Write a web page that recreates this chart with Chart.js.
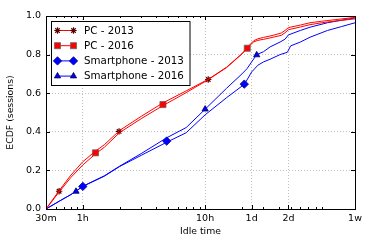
<!DOCTYPE html>
<html>
<head>
<meta charset="utf-8">
<script src="https://cdn.jsdelivr.net/npm/chart.js@4.4.0/dist/chart.umd.min.js"></script>
<style>
  html, body { margin: 0; padding: 0; background: #ffffff; }
</style>
</head>
<body>
<canvas id="ecdfChart" width="374" height="249"></canvas>
<script>
// x values are idle time in hours, y values are ECDF of sessions
var xTickHours = [0.5, 1, 10, 24, 48, 168];
var xTickLabels = ['30m', '1h', '10h', '1d', '2d', '1w'];
var xMinorHours = [0.6, 0.7, 0.8, 0.9, 2, 3, 4, 5, 6, 7, 8, 9, 20, 30, 40, 50, 60, 70, 80, 90];
var yTickVals = [0, 0.2, 0.4, 0.6, 0.8, 1.0];

var pcHours   = [0.5, 0.64, 0.8, 1, 1.27, 1.5, 2, 3, 4.5, 7, 10.6, 15, 20, 22, 23.5, 25, 27, 30, 36, 42, 45, 48, 60, 72, 90, 120, 168];
var pc2013Ecdf = [0, 0.095, 0.176, 0.245, 0.300, 0.333, 0.407, 0.480, 0.549, 0.612, 0.672, 0.735, 0.805, 0.834, 0.855, 0.872, 0.882, 0.889, 0.900, 0.912, 0.925, 0.940, 0.953, 0.965, 0.973, 0.982, 0.993];
var pc2016Ecdf = [0, 0.088, 0.164, 0.228, 0.286, 0.320, 0.396, 0.468, 0.535, 0.603, 0.670, 0.733, 0.803, 0.832, 0.850, 0.866, 0.874, 0.879, 0.890, 0.900, 0.913, 0.929, 0.943, 0.955, 0.965, 0.975, 0.985];

var sp2016Hours = [0.5, 0.64, 0.8, 0.88, 1, 1.5, 2, 3, 4.85, 7, 10, 15, 20, 22, 24, 26.4, 30, 34, 41, 45, 48, 60, 72, 100, 130, 168];
var sp2016Ecdf  = [0, 0.040, 0.075, 0.092, 0.118, 0.172, 0.222, 0.287, 0.369, 0.422, 0.517, 0.626, 0.700, 0.727, 0.762, 0.800, 0.815, 0.840, 0.865, 0.880, 0.902, 0.925, 0.942, 0.965, 0.978, 0.990];

var sp2013Hours = [0.5, 0.64, 0.8, 1, 1.5, 2, 3, 4.85, 7, 10, 15, 21, 24, 27, 30, 34, 41, 47, 50, 60, 72, 100, 130, 168];
var sp2013Ecdf  = [0, 0.040, 0.075, 0.117, 0.170, 0.220, 0.278, 0.346, 0.395, 0.488, 0.577, 0.647, 0.710, 0.745, 0.762, 0.776, 0.800, 0.812, 0.845, 0.865, 0.890, 0.925, 0.945, 0.965];

// sparse markers, as in the original plot
var pc2013MarkHours = [0.64, 1.98, 10.6];
var pc2013MarkEcdf  = [0.092, 0.402, 0.671];
var pc2016MarkHours = [1.27, 4.52, 22.1];
var pc2016MarkEcdf  = [0.291, 0.541, 0.833];
var sp2013MarkHours = [1.0, 4.85, 20.9];
var sp2013MarkEcdf  = [0.117, 0.352, 0.647];
var sp2016MarkHours = [0.88, 10.0, 26.4];
var sp2016MarkEcdf  = [0.091, 0.517, 0.798];

var seriesNames = ['PC - 2013', 'PC - 2016', 'Smartphone - 2013', 'Smartphone - 2016'];

function toPoints(xs, ys) {
    return xs.map(function(x, i) { return { x: x, y: ys[i] }; });
}

var markerStyles = [
    { pointStyle: 'star', radius: 3.2, fill: '#8b0000', edge: '#5a0000', width: 1.2 },
    { pointStyle: 'rect', radius: 4.3, fill: '#ff0000', edge: '#666666', width: 0.8 },
    { pointStyle: 'rectRot', radius: 4.2, fill: '#0000ff', edge: '#000088', width: 0.8 },
    { pointStyle: 'triangle', radius: 3.6, fill: '#0000ff', edge: '#000044', width: 0.8 }
];
var lineColors = ['#ff0000', '#ff0000', '#0000ff', '#0000ff'];

function lineSet(xs, ys, color) {
    return {
        data: toPoints(xs, ys),
        showLine: true,
        borderColor: color,
        borderWidth: 1,
        pointRadius: 0,
        pointHoverRadius: 0,
        tension: 0,
        fill: false
    };
}

function markSet(xs, ys, m) {
    return {
        data: toPoints(xs, ys),
        showLine: false,
        pointStyle: m.pointStyle,
        pointRadius: m.radius,
        pointHoverRadius: m.radius,
        backgroundColor: m.fill,
        borderColor: m.edge,
        borderWidth: m.width
    };
}

// inward ticks + black frame, like the matplotlib classic style
var framePlugin = {
    id: 'frame',
    afterDatasetsDraw: function(chart) {
        var ctx = chart.ctx, a = chart.chartArea;
        var xs = chart.scales.x, ys = chart.scales.y;
        ctx.save();
        ctx.strokeStyle = '#000000';
        ctx.lineWidth = 1;
        ctx.beginPath();
        xTickHours.forEach(function(v) {
            var px = Math.round(xs.getPixelForValue(v)) + 0.5;
            ctx.moveTo(px, a.bottom); ctx.lineTo(px, a.bottom - 4);
            ctx.moveTo(px, a.top); ctx.lineTo(px, a.top + 4);
        });
        xMinorHours.forEach(function(v) {
            var px = Math.round(xs.getPixelForValue(v)) + 0.5;
            ctx.moveTo(px, a.bottom); ctx.lineTo(px, a.bottom - 2);
            ctx.moveTo(px, a.top); ctx.lineTo(px, a.top + 2);
        });
        yTickVals.forEach(function(v) {
            var py = Math.round(ys.getPixelForValue(v)) + 0.5;
            ctx.moveTo(a.left, py); ctx.lineTo(a.left + 4, py);
            ctx.moveTo(a.right, py); ctx.lineTo(a.right - 4, py);
        });
        ctx.stroke();
        ctx.strokeRect(Math.round(a.left) + 0.5, Math.round(a.top) + 0.5,
            Math.round(a.right - a.left), Math.round(a.bottom - a.top));
        ctx.restore();
    },
    afterDraw: function(chart) {
        // legend box in the upper left corner
        var ctx = chart.ctx;
        var box = { left: 51, top: 21.5, right: 189.5, bottom: 85.5 };
        ctx.save();
        ctx.fillStyle = '#ffffff';
        ctx.fillRect(box.left, box.top, box.right - box.left, box.bottom - box.top);
        ctx.strokeStyle = '#000000';
        ctx.lineWidth = 1;
        ctx.strokeRect(box.left + 0.5, box.top, box.right - box.left, box.bottom - box.top);
        ctx.font = '10.3px "DejaVu Sans", sans-serif';
        ctx.textBaseline = 'middle';
        ctx.textAlign = 'left';
        seriesNames.forEach(function(name, i) {
            var y = 30.5 + i * 15.2;
            var m = markerStyles[i];
            ctx.strokeStyle = lineColors[i];
            ctx.lineWidth = 1;
            ctx.beginPath();
            ctx.moveTo(57.5, y); ctx.lineTo(73.5, y);
            ctx.stroke();
            [57.5, 73.5].forEach(function(px) {
                ctx.fillStyle = m.fill;
                ctx.strokeStyle = m.edge;
                ctx.lineWidth = m.width;
                Chart.helpers.drawPoint(ctx, { pointStyle: m.pointStyle, radius: m.radius, rotation: 0, borderWidth: m.width }, px, y);
            });
            ctx.fillStyle = '#000000';
            ctx.fillText(name, 84, y + 0.5);
        });
        ctx.restore();
    }
};

var datasets = [
    lineSet(pcHours, pc2013Ecdf, lineColors[0]),
    lineSet(pcHours, pc2016Ecdf, lineColors[1]),
    lineSet(sp2013Hours, sp2013Ecdf, lineColors[2]),
    lineSet(sp2016Hours, sp2016Ecdf, lineColors[3]),
    markSet(pc2013MarkHours, pc2013MarkEcdf, markerStyles[0]),
    markSet(pc2016MarkHours, pc2016MarkEcdf, markerStyles[1]),
    markSet(sp2013MarkHours, sp2013MarkEcdf, markerStyles[2]),
    markSet(sp2016MarkHours, sp2016MarkEcdf, markerStyles[3])
];

var tickFont = { family: "'DejaVu Sans', sans-serif", size: 9.5 };
var titleFont = { family: "'DejaVu Sans', sans-serif", size: 9.3 };

new Chart(document.getElementById('ecdfChart'), {
    type: 'scatter',
    data: { datasets: datasets },
    options: {
        responsive: false,
        animation: false,
        events: [],
        layout: { padding: { top: 16, right: 19, left: 0, bottom: 0 } },
        plugins: {
            legend: { display: false },
            tooltip: { enabled: false }
        },
        scales: {
            x: {
                type: 'logarithmic',
                min: 0.5,
                max: 168,
                afterBuildTicks: function(scale) {
                    scale.ticks = xTickHours.map(function(v) { return { value: v }; });
                },
                afterFit: function(scale) { scale.height = 40; },
                ticks: {
                    autoSkip: false,
                    maxRotation: 0,
                    padding: 4,
                    color: '#000000',
                    font: tickFont,
                    callback: function(value, index) { return xTickLabels[index]; }
                },
                grid: {
                    drawTicks: false,
                    lineWidth: 1,
                    color: function(c) {
                        var v = c.tick ? c.tick.value : 0;
                        return (v > 0.5 && v < 168) ? '#c0c0c0' : 'rgba(0,0,0,0)';
                    }
                },
                border: { display: false, dash: [1, 2] },
                title: {
                    display: true,
                    text: 'Idle time',
                    color: '#000000',
                    font: titleFont,
                    padding: { top: 2, bottom: 12 }
                }
            },
            y: {
                min: 0,
                max: 1,
                afterBuildTicks: function(scale) {
                    scale.ticks = yTickVals.map(function(v) { return { value: v }; });
                },
                afterFit: function(scale) { scale.width = 46; },
                ticks: {
                    padding: 5,
                    color: '#000000',
                    font: tickFont,
                    callback: function(value) { return Number(value).toFixed(1); }
                },
                grid: {
                    drawTicks: false,
                    lineWidth: 1,
                    color: function(c) {
                        var v = c.tick ? c.tick.value : 0;
                        return (v > 0.001 && v < 0.999) ? '#c0c0c0' : 'rgba(0,0,0,0)';
                    }
                },
                border: { display: false, dash: [1, 2] },
                title: {
                    display: true,
                    text: 'ECDF (sessions)',
                    color: '#000000',
                    font: titleFont,
                    padding: { top: 5, bottom: 0 }
                }
            }
        }
    },
    plugins: [framePlugin]
});
</script>
</body>
</html>
